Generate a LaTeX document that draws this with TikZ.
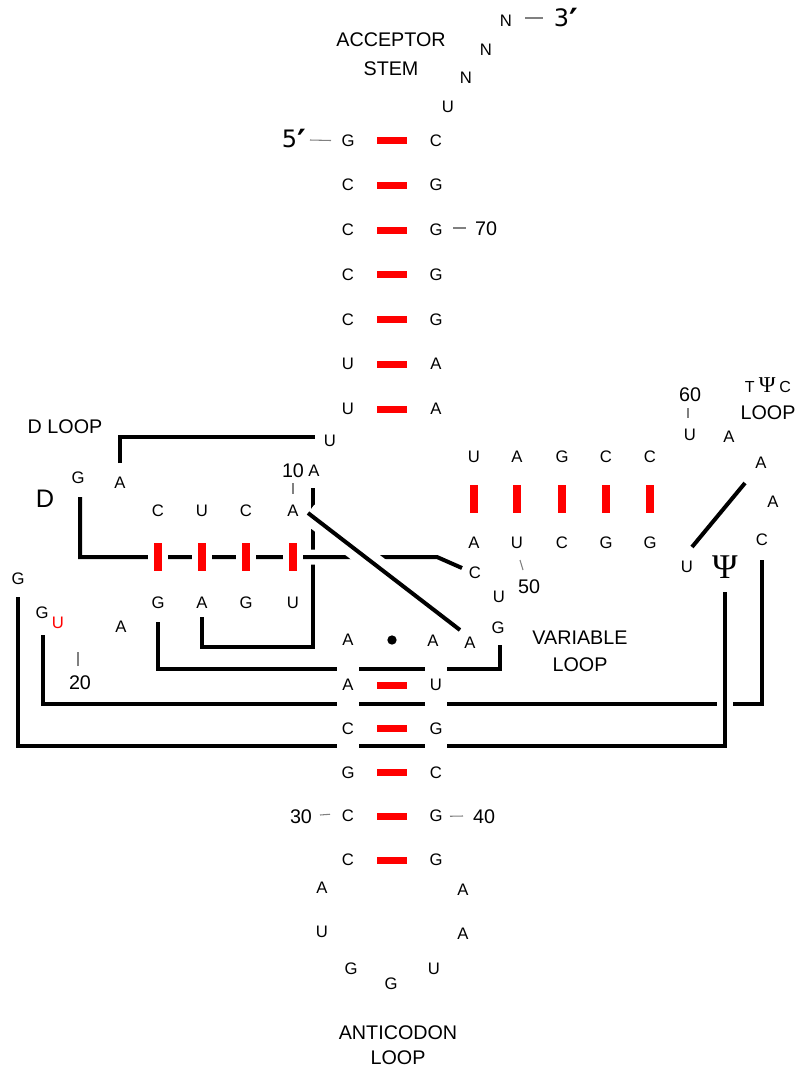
\documentclass[tikz,border=0pt]{standalone}
\usepackage{fontspec}
\setmainfont{Liberation Sans}
\newfontfamily\greekserif{Liberation Serif}
\newfontfamily\primefont{DejaVu Sans}
\usetikzlibrary{backgrounds,calc}
\newcommand{\bigprime}{{\bfseries\fontsize{25}{25}\selectfont\raisebox{-4.5pt}{′}}}
\tikzset{
  nt/.style={inner sep=0pt, font=\fontsize{12.5}{13}\selectfont},
  lbl/.style={inner sep=0pt, align=center, font=\fontsize{14.8}{#1}\selectfont},
  lbl/.default=18,
  endlbl/.style={inner sep=0pt, font=\primefont\fontsize{18}{18}\selectfont},
  bond/.style={line width=3pt},
  halo/.style={preaction={draw=white, line width=#1}},
  pairbar/.style={red, line width=5.25pt},
  stackbar/.style={red, line width=6pt},
  tick/.style={gray, line width=0.8pt},
  gapstrip/.style={white, line width=17pt},
}
\begin{document}
\begin{tikzpicture}[x=0.75pt, y=-0.75pt]
\useasboundingbox (0,0) rectangle (798,1068);

\foreach \na/\nb [count=\i] in {G/C,C/G,C/G,C/G,C/G,U/A,U/A}{
  \node[nt] (acl\i) at (348,{95.75+44.75*\i}) {\na};
  \node[nt] (acr\i) at (436,{95.75+44.75*\i}) {\nb};
  \draw[pairbar] ($(acl\i)+(29,0)$) -- ($(acr\i)+(-29,0)$);
}
\foreach \n/\x/\y [count=\i] in {U/448/107,N/466/78,N/486/50,N/506/21}{
  \node[nt] (tail\i) at (\x,\y) {\n};
}
\node[endlbl] (end5) at (294,141) {5\bigprime};
\node[endlbl] (end3) at (566,20) {3\bigprime};
\node[lbl=21.75] (accstem) at (391,54.5) {ACCEPTOR\\STEM};

\foreach \na/\nb/\x [count=\i] in {C/G/158,U/A/202,C/G/246,A/U/293}{
  \node[nt] (dst\i) at (\x,511) {\na};
  \node[nt] (dsb\i) at (\x,603) {\nb};
}
\foreach \na/\nb/\x [count=\i] in {U/A/474,A/U/517,G/C/562,C/G/606,C/G/650}{
  \node[nt] (tst\i) at (\x,457) {\na};
  \node[nt] (tsb\i) at (\x,543) {\nb};
  \draw[stackbar] ($(tst\i)+(0,28)$) -- ($(tsb\i)+(0,-30)$);
}
\foreach \na/\nb [count=\i] in {A/U,C/G,G/C,C/G,C/G}{
  \node[nt] (asl\i) at (348,{641.25+43.75*\i}) {\na};
  \node[nt] (asr\i) at (436,{641.25+43.75*\i}) {\nb};
  \draw[pairbar] ($(asl\i)+(29,0)$) -- ($(asr\i)+(-29,0)$);
}
\foreach \n/\x/\y [count=\i] in {A/322/888,U/322/932,G/351/969,G/391/984,U/434/969,A/463/934,A/463/890}{
  \node[nt] (loop\i) at (\x,\y) {\n};
}

\node[nt] (u8) at (330,441) {U};
\node[nt] (a9) at (314,471) {A};
\node[nt] (a14) at (120,483) {A};
\node[nt] (g15) at (78,478) {G};
\node[inner sep=0pt, font=\fontsize{19}{19}\selectfont] (dihydro) at (45,499) {D};
\node[nt] (g18) at (18,579) {G};
\node[nt] (g19) at (42,613) {G};
\node[nt, red] (u20) at (58,623) {U};
\node[nt] (a21) at (121,627) {A};
\node[nt] (v26) at (348,640) {A};
\node[circle, fill, inner sep=0pt, minimum size=7pt] (pairdot) at (392,640) {};
\node[nt] (v44) at (433,641) {A};
\node[nt] (v45) at (470,643) {A};
\node[nt] (v46) at (498,628) {G};
\node[nt] (v47) at (499,597) {U};
\node[nt] (v48) at (475,573) {C};
\node[nt] (t54) at (687,567) {U};
\node[inner sep=0pt, font=\greekserif\fontsize{26}{26}\selectfont] (t55) at (725,567) {Ψ};
\node[nt] (t56) at (762,540) {C};
\node[nt] (t57) at (773,502) {A};
\node[nt] (t58) at (761,463) {A};
\node[nt] (t59) at (729,437) {A};
\node[nt] (t60) at (690,435) {U};

\node[lbl] (dloop) at (65,427) {D LOOP};
\node[lbl=20.25] (varloop) at (580,651.5) {VARIABLE\\LOOP};
\node[lbl=20.25] (tpcloop) at (768,398.5) {{\fontsize{12}{12}\selectfont T\hspace{3pt}{\greekserif\fontsize{17}{17}\selectfont Ψ}\hspace{3pt}C}\\LOOP};
\node[lbl=18.75] (antiloop) at (398,1045.5) {ANTICODON\\LOOP};
\node[lbl] (n10) at (293,471) {10};
\node[lbl] (n20) at (80,683) {20};
\node[lbl] (n30) at (301,817) {30};
\node[lbl] (n40) at (484,817) {40};
\node[lbl] (n50) at (529,587) {50};
\node[lbl] (n60) at (690,395) {60};
\node[lbl] (n70) at (486,229) {70};

\draw[tick] ($(end5)+(16,-1)$) -- ($(acl1)+(-17,0)$);
\draw[tick] ($(tail4)+(19,-3)$) -- ($(end3)+(-23,-2)$);
\draw[tick] ($(acr3)+(17,-2)$) -- ($(n70)+(-20,-1)$);
\draw[tick] ($(n30)+(19,-2)$) -- ($(asl4)+(-18,-2)$);
\draw[tick] ($(asr4)+(14,0)$) -- ($(n40)+(-21,-1)$);
\draw[tick] ($(n10)+(0,12)$) -- ($(dst4)+(0,-17)$);
\draw[tick] ($(n20)+(-2,-17)$) -- ++(0,-14);
\draw[tick] ($(tsb2)+(3,17)$) -- ($(n50)+(-6,-17)$);
\draw[tick] ($(n60)+(-2,13)$) -- ($(t60)+(-2,-17)$);

\foreach \i in {1,...,4}{
  \draw[stackbar, halo=15pt] ($(dst\i)+(0,32)$) -- ($(dsb\i)+(0,-32)$);
}

\begin{pgfonlayer}{background}
\draw[bond] ($(dsb2)+(0,14)$) |- ($(a9)+(-1,176)$) -- ($(a9)+(-1,17)$);
\draw[bond] ($(a14)+(0,-20)$) |- ($(u8)+(-15,-4)$);
\draw[bond] ($(dsb1)+(0,19)$) |- ($(v46)+(2,41)$) -- ($(v46)+(2,17)$);
\draw[bond] ($(g19)+(1,22)$) |- ($(t56)+(0,164)$) -- ($(t56)+(0,20)$);
\draw[bond, halo=12pt] ($(g18)+(0,18)$) |- ($(t55)+(0,179)$) -- ($(t55)+(0,25)$);
\draw[gapstrip] (v26) -- (asl3);
\draw[gapstrip] (asr1 |- v44) -- (asr3);
\draw[bond, halo=11.25pt] ($(g15)+(2,19)$) |- ($(v48)+(-38,-16)$) -- ($(v48)+(-13,-5)$);
\draw[bond, halo=15.75pt] ($(dst4)+(15,2)$) -- ($(v45)+(-10,-13)$);
\draw[bond] ($(t54)+(5,-20)$) -- ($(t58)+(-16,20)$);
\end{pgfonlayer}
\end{tikzpicture}
\end{document}
